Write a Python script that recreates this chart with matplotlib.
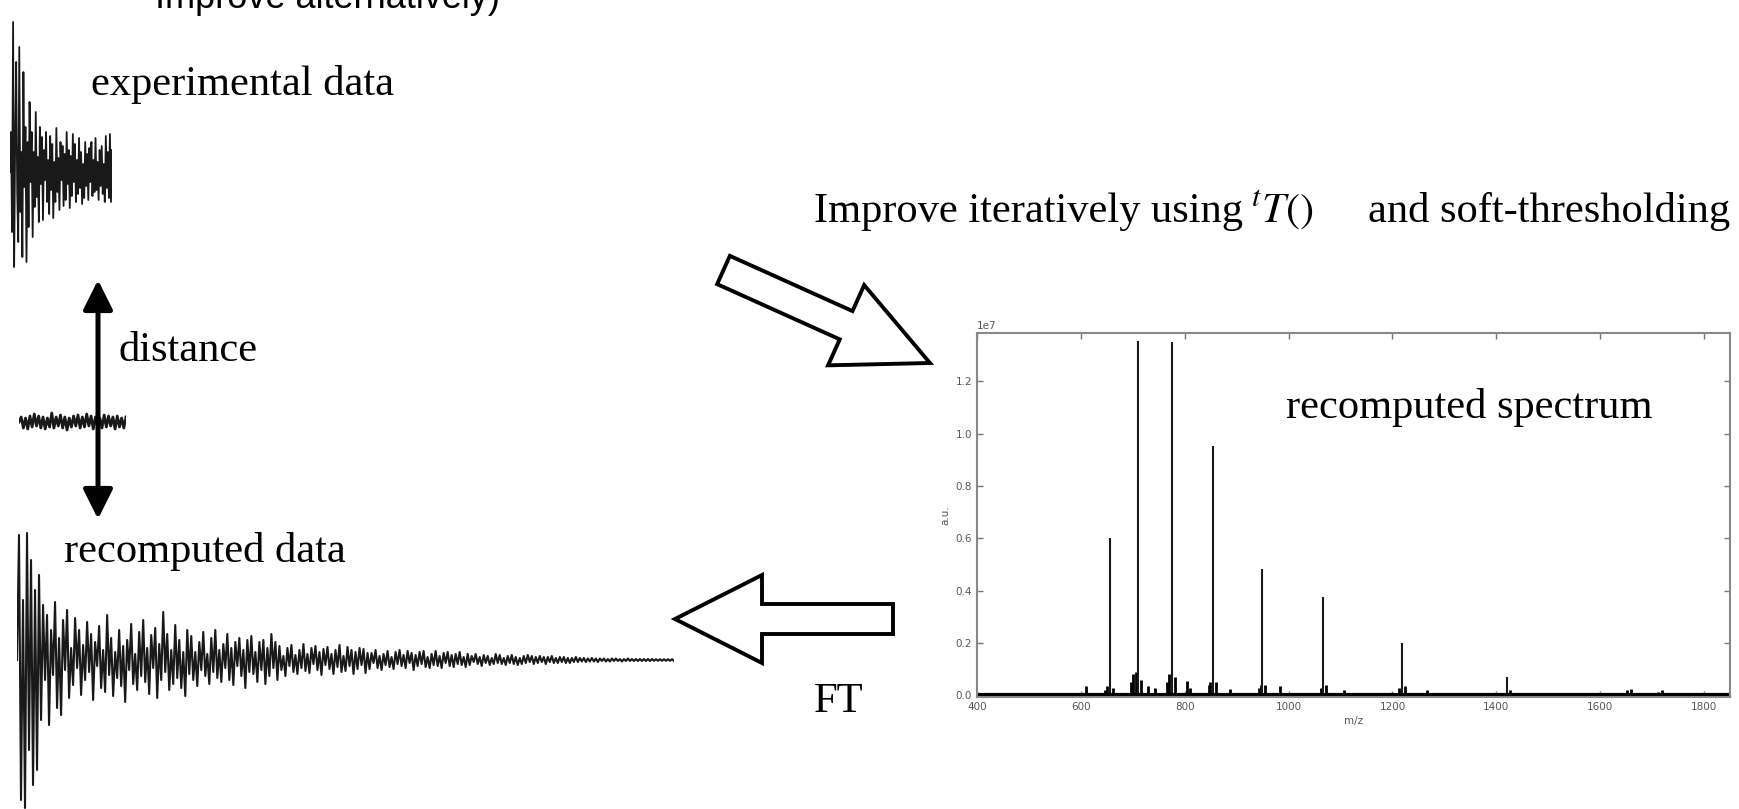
import numpy as np
import matplotlib
matplotlib.use("Agg")
import matplotlib.pyplot as plt
from matplotlib.patches import FancyArrow, FancyArrowPatch

W, H = 1740, 809
DPI = 100

plt.rcParams['mathtext.fontset'] = 'stix'

# recomputed spectrum, intensities in units of 1e7 a.u.
peak_mz = [656, 710, 775, 855, 949, 1067, 1218, 1420]
peak_int = [0.60, 1.355, 1.35, 0.955, 0.485, 0.375, 0.20, 0.07]
minor_mz = [540, 555, 610, 646, 651, 661, 696, 701, 706, 716, 730, 743,
            765, 770, 781, 805, 811, 846, 849, 860, 888, 943, 947, 955,
            983, 1062, 1072, 1106, 1213, 1224, 1267, 1292, 1337, 1426,
            1472, 1512, 1572, 1652, 1660, 1712, 1720, 1767, 1782, 1792]
minor_int = [0.010, 0.008, 0.035, 0.02, 0.035, 0.03, 0.05, 0.08, 0.09, 0.06,
             0.035, 0.03, 0.05, 0.08, 0.07, 0.055, 0.03, 0.04, 0.05, 0.05,
             0.025, 0.03, 0.04, 0.04, 0.035, 0.03, 0.04, 0.02, 0.03, 0.035,
             0.02, 0.01, 0.01, 0.02, 0.008, 0.01, 0.008, 0.02, 0.025, 0.015,
             0.02, 0.01, 0.01, 0.01]
mz_ticks = [400, 600, 800, 1000, 1200, 1400, 1600, 1800]
int_ticks = [0.0, 0.2, 0.4, 0.6, 0.8, 1.0, 1.2]

# transients (arbitrary units)
exp_fid = [0, 40, -60, 150, -95, 30, 110, -20, -70, 125, -40, 20, -85, 100,
           -15, 45, -90, 30, -55, 70, -10, 40, -65, 20, -35, 60, -25, 15,
           -50, 45, -12, 35, -48, 22, -8, 40, -30, 12, -42, 36, -18, 28,
           -46, 10, -30, 44, -20, 14, -38, 30, -8, 26, -34, 18, -28, 40,
           -12, 22, -36, 16, -24, 38, -10, 28, -30, 12, -22, 34, -16, 20,
           -32, 8, -26, 30, -14, 18, -28, 24, -10, 30, -24, 12, -20, 34,
           -18, 10, -28, 22, -14, 26, -22, 8, -30, 36, -16, 20, -26, 38,
           -30, 22]
residual = [0, 5, -6, 4, -7, 6, -5, 8, -4, 6, -6, 5, -7, 4, -5, 9, -6, 5,
            -4, 7, -6, 5, -8, 4, -5, 6, -4, 7, -6, 5, -5, 8, -4, 6, -7, 5,
            -5, 4, -6, 7, -5, 6, -4, 5, -7, 6, -5, 4, -6, 5]
rec_fid = [0, 125, -140, 60, -148, 127, -90, 100, -125, 70, -110, 85,
           -60, 55, -20, 45, -65, 30, -15, 58, -48, 22, -55, 40, -10, 50,
           -38, 12, -25, 42, -8, 30, -35, 15, -20, 38, -12, 26, -40, 18,
           -6, 34, -28, 10, -32, 45, -15, 22, -36, 8, -18, 30, -26, 14,
           -42, 20, -10, 36, -24, 6, -30, 28, -16, 40, -22, 12, -34, 25,
           -8, 32, -38, 16, -20, 48, -12, 26, -30, 10, -24, 35, -18, 20,
           -28, 8, -36, 30, -14,
           24, -20, 8, -26, 18, -10, 28, -16, 6, -24, 22, -12, 30, -18,
           10, -22, 16, -8, 26, -20, 12, -25, 18, -6, 22, -16, 10, -28,
           20, -12, 24, -14, 8, -22, 18, -10, 20, -24, 12, -16, 26, -8,
           18, -20,
           14, -10, 4, -16, 12, -6, 15, -12, 5, -14, 10, -8, 16, -11, 6,
           -13, 12, -4, 14, -10, 8, -15, 11, -5, 13, -9, 6, -14, 10, -7,
           15, -12, 4, -11, 13, -6, 10, -14, 8, -9, 12, -5, 11, -13, 7,
           -9, 7, -3, 10, -8, 4, -10, 6, -5, 9, -7, 3, -9, 8, -4, 10, -6,
           5, -8, 9, -3, 7, -10, 5, -6, 8, -4, 9, -7, 3, -8, 6, -5, 9, -6,
           4, -8, 7, -3, 8, -6, 5, -7, 6, -4, 8, -5, 3, -7, 6,
           -5, 4, -2, 6, -4, 3, -6, 5, -3, 4, -5, 2, -4, 6, -3, 5, -4, 2,
           -5, 4, -3, 5, -4, 3, -5, 2, -4, 4, -3, 5, -2, 4, -4, 3, -3, 4,
           -2, 3, -4, 3, -2, 4, -3, 2, -3, 3, -2, 3, -3, 2, -3, 2, -2, 3,
           -2,
           2, -1.5, 2, -2, 1.5, -1.5, 2, -1.5, 1.5, -2, 1.5, -1, 1.5, -1.5,
           1, -1.5, 1.5, -1, 1.5, -1, 1, -1.5, 1, -1, 1.5, -1, 1, -1, 1,
           -1, 1, -1, 1, -1, 1, -1, 1, -0.8, 0.8, -0.8, 0.8, -0.8, 0.8,
           -0.8, 0.8, -0.8, 0.8, -0.8]


def px_axes(fig, left, top, right, bottom):
    return fig.add_axes([left / W, 1 - bottom / H,
                         (right - left) / W, (bottom - top) / H])


def trace(ax, values, below, above, lw):
    ax.plot(values, color='black', lw=lw, alpha=0.9)
    ax.set_xlim(0, len(values) - 1)
    ax.set_ylim(-below, above)
    ax.axis('off')


fig = plt.figure(figsize=(W / DPI, H / DPI), dpi=DPI)
fig.patch.set_facecolor('white')

trace(px_axes(fig, 10, 12, 112, 300), exp_fid, 128, 160, 1.3)
trace(px_axes(fig, 19, 402, 126, 442), residual, 20, 20, 2.0)
trace(px_axes(fig, 17, 530, 674, 809), rec_fid, 149, 130, 1.5)

# spectrum panel
sp = px_axes(fig, 977, 333, 1730, 697)
sp.vlines(minor_mz, 0, np.array(minor_int) * 1e7, color='black', lw=2.0)
sp.vlines(peak_mz, 0, np.array(peak_int) * 1e7, color='#1a1a1a', lw=1.5)
sp.axhline(0, color='black', lw=3)
sp.set_xlim(400, 1850)
sp.set_ylim(-0.006e7, 1.385e7)
sp.set_xticks(mz_ticks)
sp.set_yticks(np.array(int_ticks) * 1e7)
sp.tick_params(direction='in', top=True, right=True, length=4, width=1,
               colors='#777777', labelsize=7.5, labelcolor='#555555')
sp.yaxis.get_offset_text().set_fontsize(7.5)
sp.yaxis.get_offset_text().set_color('#555555')
sp.set_xlabel('m/z', fontsize=7.5, color='#555555', labelpad=3)
sp.set_ylabel('a.u.', fontsize=7.5, color='#555555', labelpad=4)
for s in sp.spines.values():
    s.set_color('#888888')
    s.set_linewidth(1.5)

# annotation layer in pixel coordinates
bg = fig.add_axes([0, 0, 1, 1])
bg.set_xlim(0, W)
bg.set_ylim(H, 0)
bg.axis('off')

serif = dict(family='Liberation Serif', fontsize=30.6, color='black',
             va='baseline')
bg.text(155, 8, 'Improve alternatively)', family='Liberation Sans',
        fontsize=26, va='baseline')
bg.text(91, 95, 'experimental data', **serif)
bg.text(119, 361, 'distance', **serif)
bg.text(64, 562, 'recomputed data', **serif)
bg.text(1286, 418, 'recomputed spectrum', **serif)
bg.text(814, 222, 'Improve iteratively using', **serif)
bg.text(1251, 222, r'${}^{t}T()$', **serif)
bg.text(1368, 222, 'and soft-thresholding', **serif)
bg.text(814, 712, 'FT', **serif)

bg.add_patch(FancyArrowPatch((98, 519), (98, 280),
                             arrowstyle='<|-|>,head_length=1.0,head_width=0.5',
                             mutation_scale=18, lw=3.6, color='black',
                             shrinkA=0, shrinkB=0))
bg.add_patch(FancyArrow(723.5, 270, 206.5, 93, width=31, head_width=88,
                        head_length=92, length_includes_head=True,
                        fc='white', ec='black', lw=2.8, joinstyle='miter'))
bg.add_patch(FancyArrow(893, 619, -218, 0, width=30, head_width=88,
                        head_length=87, length_includes_head=True,
                        fc='white', ec='black', lw=2.8, joinstyle='miter'))

fig.savefig('out.png', dpi=DPI, facecolor='white')
